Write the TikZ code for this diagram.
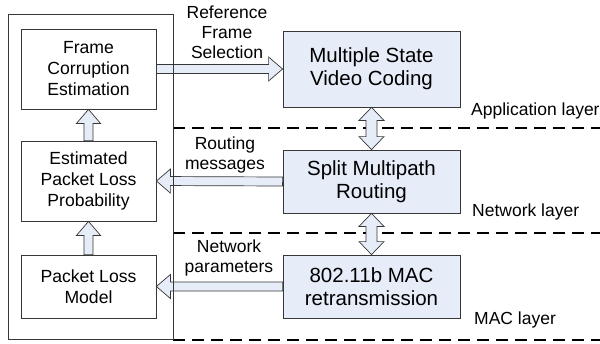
\documentclass[tikz,border=0pt]{standalone}
\usepackage{fontspec}
\setmainfont{Liberation Sans}
\usetikzlibrary{calc}
\definecolor{boxblue}{RGB}{230, 236, 248}
\definecolor{edgegray}{RGB}{55, 55, 55}

% block arrow from #1 to #2 (tip at #2)
\newcommand{\fatarrow}[2]{%
  \draw[blockarrow] let \p1=(#1), \p2=(#2),
    \n1={atan2(\y2-\y1,\x2-\x1)}, \n2={veclen(\x2-\x1,\y2-\y1)} in
    [shift={(\p1)}, rotate=\n1]
    (0pt,4.5pt) -- ({(\n2-14)*1pt},4.5pt) -- ({(\n2-14)*1pt},12pt)
    -- ({\n2*1pt},0pt) -- ({(\n2-14)*1pt},-12pt) -- ({(\n2-14)*1pt},-4.5pt)
    -- (0pt,-4.5pt) -- cycle;}
% block arrow with a head at both ends
\newcommand{\fatdblarrow}[2]{%
  \draw[blockarrow] let \p1=(#1), \p2=(#2),
    \n1={atan2(\y2-\y1,\x2-\x1)}, \n2={veclen(\x2-\x1,\y2-\y1)} in
    [shift={(\p1)}, rotate=\n1]
    (0pt,0pt) -- (13pt,12.5pt) -- (13pt,5.5pt) -- ({(\n2-13)*1pt},5.5pt)
    -- ({(\n2-13)*1pt},12.5pt) -- ({\n2*1pt},0pt) -- ({(\n2-13)*1pt},-12.5pt)
    -- ({(\n2-13)*1pt},-5.5pt) -- (13pt,-5.5pt) -- (13pt,-12.5pt) -- cycle;}

\begin{document}
\begin{tikzpicture}[x=1pt, y=-1pt,
    leftbox/.style={draw=edgegray, line width=0.8pt, minimum width=135pt,
      inner sep=0pt, align=center, font=\fontsize{17.6}{21}\selectfont},
    rightbox/.style={draw=edgegray, fill=boxblue, line width=0.8pt,
      minimum width=177pt, inner sep=0pt, align=center,
      font=\fontsize{20.5}{23}\selectfont},
    blockarrow/.style={draw=edgegray, fill=boxblue, line width=0.7pt},
    layerline/.style={line width=2pt, dash pattern=on 12pt off 7pt},
    lbl/.style={align=center, inner sep=0pt, font=\fontsize{17.5}{20}\selectfont}]
    \useasboundingbox (0,0) rectangle (600,343);

    % layer separators
    \draw[layerline] (173,128) -- (600,128);
    \draw[layerline] (173,233) -- (600,233);
    \draw[layerline] (173,340) -- (600,340);

    % estimation side
    \node[leftbox, minimum height=80pt] (fce) at (88.5,69) {Frame\\Corruption\\Estimation};
    \node[leftbox, minimum height=80pt] (eplp) at (88.5,181) {Estimated\\Packet Loss\\Probability};
    \node[leftbox, minimum height=63pt] (plm) at (88.5,286.5) {Packet Loss\\Model};

    % protocol stack
    \node[rightbox, minimum height=76pt] (msvc) at (371.5,69) {Multiple State\\Video Coding};
    \node[rightbox, minimum height=63pt] (smr) at (371.5,181.5) {Split Multipath\\Routing};
    \node[rightbox, minimum height=63pt] (mac) at (371.5,286.5) {802.11b MAC\\retransmission};

    \fatarrow{plm.north}{eplp.south}
    \fatarrow{eplp.north}{fce.south}
    \fatarrow{fce.east}{msvc.west}
    \fatarrow{smr.west}{eplp.east}
    \fatarrow{mac.west}{plm.east}
    \fatdblarrow{msvc.south}{smr.north}
    \fatdblarrow{smr.south}{mac.north}

    \draw[edgegray, line width=0.8pt] (8,14) rectangle (173,339);

    \node[lbl] (refsel) at (227,32) {Reference\\Frame\\Selection};
    \node[lbl] (routmsg) at (225,155) {Routing\\messages};
    \node[lbl] (netpar) at (229,258) {Network\\parameters};
    \node[lbl, anchor=west] (applay) at (471,111) {Application layer};
    \node[lbl, anchor=west] (netlay) at (472,212) {Network layer};
    \node[lbl, anchor=west] (maclay) at (474,320) {MAC layer};
\end{tikzpicture}
\end{document}
